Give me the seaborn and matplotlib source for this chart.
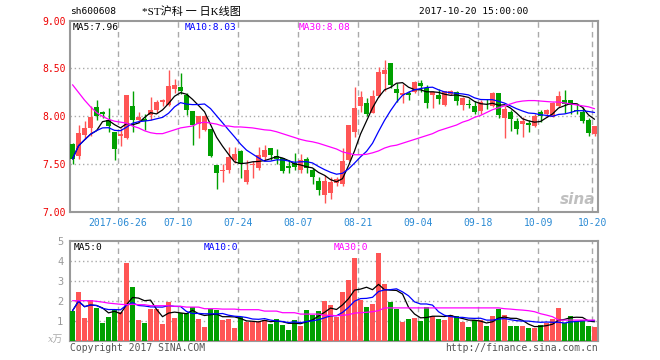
import numpy as np
import pandas as pd
import seaborn as sns
import matplotlib
matplotlib.use("Agg")
import matplotlib.pyplot as plt

# 日K数据
opens = [7.71, 7.59, 7.81, 7.88, 8.10, 8.045, 7.965, 7.836, 7.795, 7.77,
         8.11, 7.965, 7.97, 8.017, 8.07, 8.154, 8.115, 8.29, 8.31, 8.227,
         8.06, 7.92, 7.86, 7.87, 7.493, 7.427, 7.44, 7.545, 7.64, 7.315,
         7.497, 7.465, 7.58, 7.668, 7.587, 7.563, 7.486, 7.51, 7.44, 7.556,
         7.44, 7.325, 7.18, 7.20, 7.31, 7.30, 7.55, 7.84, 8.11, 8.135,
         8.04, 8.215, 8.44, 8.56, 8.29, 8.22, 8.24, 8.256, 8.345, 8.30,
         8.22, 8.22, 8.117, 8.235, 8.25, 8.12, 8.125, 8.11, 8.056, 8.132,
         8.108, 8.247, 7.986, 8.045, 7.955, 7.924, 7.934, 7.903, 8.045, 8.021,
         7.997, 8.111, 8.17, 8.17, 8.066, 8.049, 7.962, 7.813]
highs = [7.72, 7.91, 7.95, 8.11, 8.17, 8.06, 8.09, 7.84, 7.88, 8.22,
         8.26, 8.05, 8.02, 8.20, 8.175, 8.185, 8.48, 8.385, 8.455, 8.245,
         8.06, 8.0, 8.01, 7.87, 7.493, 7.50, 7.68, 7.685, 7.65, 7.545,
         7.53, 7.68, 7.70, 7.67, 7.66, 7.57, 7.545, 7.615, 7.605, 7.58,
         7.458, 7.37, 7.39, 7.37, 7.37, 7.67, 7.91, 8.31, 8.27, 8.19,
         8.28, 8.52, 8.59, 8.56, 8.35, 8.34, 8.26, 8.37, 8.38, 8.325,
         8.26, 8.29, 8.27, 8.28, 8.27, 8.20, 8.18, 8.16, 8.17, 8.18,
         8.257, 8.247, 8.11, 8.066, 7.98, 7.997, 7.96, 8.03, 8.07, 8.08,
         8.15, 8.264, 8.274, 8.17, 8.14, 8.10, 7.98, 7.903]
lows = [7.50, 7.556, 7.76, 7.80, 7.96, 7.98, 7.84, 7.55, 7.69, 7.76,
        7.84, 7.93, 7.86, 7.965, 8.035, 8.105, 8.105, 8.245, 8.23, 8.017,
        7.70, 7.77, 7.85, 7.58, 7.24, 7.32, 7.41, 7.51, 7.36, 7.30,
        7.36, 7.44, 7.55, 7.545, 7.50, 7.41, 7.41, 7.44, 7.41, 7.41,
        7.30, 7.18, 7.10, 7.143, 7.27, 7.27, 7.53, 7.78, 8.05, 8.006,
        8.035, 8.20, 8.26, 8.30, 8.15, 8.135, 8.17, 8.24, 8.25, 8.09,
        8.09, 8.13, 8.11, 8.22, 8.12, 8.07, 8.09, 8.02, 8.03, 8.08,
        8.094, 7.98, 7.77, 7.85, 7.82, 7.79, 7.84, 7.89, 7.94, 7.99,
        7.99, 8.094, 8.038, 8.02, 8.03, 7.93, 7.80, 7.80]
closes = [7.556, 7.83, 7.88, 7.99, 8.00, 8.025, 7.895, 7.66, 7.82, 8.22,
          7.965, 7.99, 7.95, 8.07, 8.154, 8.175, 8.32, 8.33, 8.26, 8.07,
          7.91, 8.0, 8.005, 7.59, 7.413, 7.44, 7.577, 7.608, 7.50, 7.44,
          7.507, 7.598, 7.65, 7.598, 7.552, 7.434, 7.465, 7.475, 7.545, 7.458,
          7.37, 7.23, 7.325, 7.32, 7.35, 7.53, 7.91, 8.09, 8.20, 8.03,
          8.215, 8.458, 8.48, 8.33, 8.246, 8.246, 8.22, 8.355, 8.32, 8.14,
          8.25, 8.185, 8.263, 8.26, 8.16, 8.19, 8.118, 8.05, 8.146, 8.125,
          8.247, 8.014, 8.076, 7.97, 7.868, 7.948, 7.906, 8.007, 8.007, 8.066,
          8.142, 8.215, 8.128, 8.118, 8.056, 7.951, 7.823, 7.903]
ma30_price = [8.33, 8.25, 8.17, 8.10, 8.04, 8.00, 7.97, 7.95, 7.94, 7.93,
              7.90, 7.88, 7.85, 7.83, 7.82, 7.82, 7.84, 7.86, 7.88, 7.89,
              7.90, 7.93, 7.94, 7.93, 7.92, 7.90, 7.90, 7.89, 7.89, 7.885,
              7.88, 7.87, 7.86, 7.855, 7.84, 7.82, 7.80, 7.78, 7.76, 7.745,
              7.735, 7.72, 7.70, 7.68, 7.66, 7.63, 7.615, 7.60, 7.60, 7.605,
              7.62, 7.64, 7.67, 7.69, 7.70, 7.72, 7.74, 7.76, 7.78, 7.80,
              7.82, 7.85, 7.87, 7.89, 7.91, 7.94, 7.96, 7.99, 8.01, 8.04,
              8.07, 8.09, 8.11, 8.13, 8.15, 8.16, 8.165, 8.165, 8.16, 8.155,
              8.15, 8.15, 8.14, 8.13, 8.12, 8.11, 8.10, 8.08]

# 成交量 (万手)
volumes = [1.5, 2.45, 1.15, 2.05, 1.65, 0.9, 1.2, 1.55, 1.45, 3.9,
           2.7, 1.05, 0.9, 1.6, 1.6, 0.85, 1.95, 1.15, 1.4, 1.4,
           1.7, 1.1, 0.7, 1.6, 1.55, 1.05, 1.1, 0.65, 1.2, 0.95,
           0.95, 0.95, 1.05, 0.85, 1.1, 0.8, 0.55, 1.05, 0.75, 1.55,
           1.3, 1.5, 2.0, 1.8, 1.2, 2.45, 3.05, 4.15, 2.05, 1.67,
           1.83, 4.38, 2.83, 1.93, 1.6, 0.93, 1.08, 1.13, 0.98, 1.68,
           1.25, 1.08, 1.05, 1.27, 1.22, 0.93, 0.68, 1.02, 1.05, 0.75,
           1.24, 1.6, 1.28, 0.74, 0.72, 0.74, 0.66, 0.66, 0.8, 0.9,
           1.1, 1.64, 0.88, 1.25, 1.0, 1.05, 0.75, 0.68]
ma30_volume = [2.0, 2.0, 2.0, 2.0, 1.97, 1.93, 1.88, 1.85, 1.82, 1.8,
               1.82, 1.8, 1.8, 1.75, 1.75, 1.75, 1.75, 1.72, 1.72, 1.68,
               1.68, 1.68, 1.6, 1.6, 1.6, 1.58, 1.58, 1.58, 1.55, 1.55,
               1.55, 1.55, 1.48, 1.48, 1.48, 1.4, 1.4, 1.4, 1.33, 1.33,
               1.33, 1.33, 1.27, 1.27, 1.25, 1.27, 1.3, 1.38, 1.4, 1.42,
               1.45, 1.5, 1.64, 1.64, 1.64, 1.64, 1.64, 1.64, 1.64, 1.64,
               1.64, 1.64, 1.64, 1.64, 1.64, 1.64, 1.64, 1.64, 1.64, 1.64,
               1.64, 1.64, 1.6, 1.58, 1.55, 1.53, 1.5, 1.45, 1.35, 1.28,
               1.2, 1.03, 1.03, 1.03, 1.03, 1.03, 1.03, 1.03]

date_labels = ["2017-06-26", "07-10", "07-24", "08-07", "08-21", "09-04", "09-18", "10-09", "10-20"]
date_index = [8, 18, 28, 38, 48, 58, 68, 78, 87]

df = pd.DataFrame({"open": opens, "high": highs, "low": lows, "close": closes,
                   "vol": volumes, "ma30": ma30_price, "vma30": ma30_volume})
df["idx"] = np.arange(len(df))
df["ma5"] = df["close"].rolling(5, min_periods=1).mean()
df["ma10"] = df["close"].rolling(10, min_periods=1).mean()
df["vma5"] = df["vol"].rolling(5, min_periods=1).mean()
df["vma10"] = df["vol"].rolling(10, min_periods=1).mean()

RED = "#ff5555"
GREEN = "#00a000"
GRID = "#aaaaaa"
FRAME = "#999999"
MONO = "DejaVu Sans Mono"

sns.set_style("white")
plt.rcParams["font.family"] = [MONO, "Noto Sans CJK SC"]

W, H = 660, 360
fig = plt.figure(figsize=(6.6, 3.6), dpi=100)


def box(l, t, r, b):
    return [l / W, 1 - b / H, (r - l) / W, (b - t) / H]


def ftext(x, y, s, **kw):
    fig.text(x / W, 1 - y / H, s, **kw)


ax = fig.add_axes(box(70.3, 20.5, 597.7, 212.3))
vax = fig.add_axes(box(70.3, 240.7, 597.7, 340.7))

up = df["close"] >= df["open"]
colors = np.where(up, RED, GREEN)
xlim = (-0.37, 87.53)

# 蜡烛图
ax.vlines(df["idx"], df["low"], df["high"], colors=colors, linewidth=1.0, zorder=3)
body = (df["close"] - df["open"]).abs().clip(lower=0.006)
ax.bar(df["idx"], body, bottom=df[["open", "close"]].min(axis=1), width=0.75,
       color=colors, linewidth=0, zorder=4)
sns.lineplot(data=df, x="idx", y="ma5", ax=ax, color="black", linewidth=0.9, zorder=5)
sns.lineplot(data=df, x="idx", y="ma10", ax=ax, color="#0000ff", linewidth=0.9, zorder=5)
sns.lineplot(data=df, x="idx", y="ma30", ax=ax, color="#ff00ff", linewidth=0.9, zorder=5)

# 成交量
vax.bar(df["idx"], df["vol"], width=0.83, color=colors, linewidth=0, zorder=3)
sns.lineplot(data=df, x="idx", y="vma5", ax=vax, color="black", linewidth=0.9, zorder=5)
sns.lineplot(data=df, x="idx", y="vma10", ax=vax, color="#0000ff", linewidth=0.9, zorder=5)
sns.lineplot(data=df, x="idx", y="vma30", ax=vax, color="#ff00ff", linewidth=0.9, zorder=5)

grid_x = [i - 0.4 for i in date_index]
for a, lo, hi, hl in [(ax, 7.0, 9.0, [7.5, 8.0, 8.5]), (vax, 0, 5, [1, 2, 3, 4])]:
    a.set_xlim(*xlim)
    a.set_ylim(lo, hi)
    for gx in grid_x:
        a.axvline(gx, color=GRID, linewidth=1.0, linestyle=(0, (4, 3)), zorder=1)
    for gy in hl:
        a.axhline(gy, color=GRID, linewidth=1.0, linestyle=(0, (1, 2)), zorder=1)
    for s in a.spines.values():
        s.set_color(FRAME)
        s.set_linewidth(1.5)
    a.set_xlabel("")
    a.set_ylabel("")

ax.set_yticks([7.0, 7.5, 8.0, 8.5, 9.0])
ax.set_yticklabels(["%.2f" % v for v in [7.0, 7.5, 8.0, 8.5, 9.0]])
ax.tick_params(axis="y", length=0, pad=3, labelcolor="#ee0000", labelsize=7)
ax.set_xticks(grid_x)
ax.set_xticklabels(date_labels)
ax.tick_params(axis="x", length=0, pad=4, labelcolor="#2a8ad4", labelsize=7)

vax.set_yticks([1, 2, 3, 4, 5])
vax.set_yticklabels(["1", "2", "3", "4", "5"])
vax.tick_params(axis="y", length=0, pad=5, labelcolor="#999999", labelsize=7.5)
vax.set_xticks([])

# 文本
ftext(70, 12, "sh600608", fontsize=6.8, va="center", ha="left", color="black")
ftext(191, 12, "*ST沪科 一 日K线图", fontsize=8, va="center", ha="center", color="black",
      family=["Liberation Serif", "Noto Sans CJK SC"])
ftext(528, 12, "2017-10-20 15:00:00", fontsize=6.8, va="center", ha="right", color="black")

ftext(73, 27, "MA5:7.96", fontsize=6.8, va="center", color="black")
ftext(185, 27, "MA10:8.03", fontsize=6.8, va="center", color="#0000ff")
ftext(299, 27, "MA30:8.08", fontsize=6.8, va="center", color="#ff00ff")

ftext(74, 247, "MA5:0", fontsize=6.8, va="center", color="black")
ftext(204, 247, "MA10:0", fontsize=6.8, va="center", color="#0000ff")
ftext(334, 247, "MA30:0", fontsize=6.8, va="center", color="#ff00ff")

ftext(63, 339, "x万", fontsize=7, va="center", ha="right", color="#aaaaaa",
      family=["DejaVu Serif", "Noto Sans CJK SC"], style="italic")
ftext(70, 348, "Copyright 2017 SINA.COM", fontsize=7, va="center", ha="left", color="#555555")
ftext(598, 348, "http://finance.sina.com.cn", fontsize=7, va="center", ha="right", color="#555555")
ftext(578, 200, "sina", fontsize=11, va="center", ha="center", color="#b0b0b0",
      style="italic", weight="bold", family="DejaVu Sans", alpha=0.8)

fig.savefig("out.png", dpi=100)
